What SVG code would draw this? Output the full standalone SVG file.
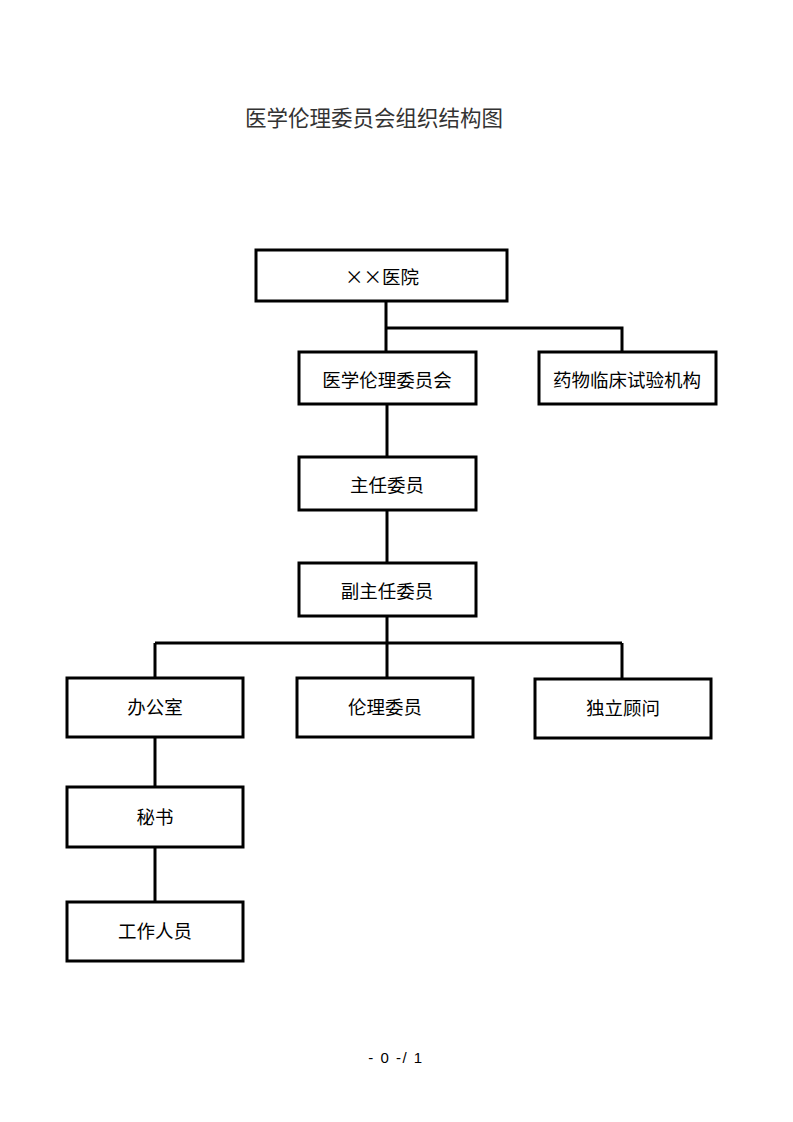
<svg xmlns="http://www.w3.org/2000/svg" width="793" height="1122" viewBox="0 0 793 1122">
<style>
.box{fill:#fff;stroke:#000;stroke-width:3}
.conn{fill:none;stroke:#000;stroke-width:3}
.lbl{font-family:"Noto Sans CJK SC","Noto Sans",sans-serif;font-size:18.5px;fill:#000;text-anchor:middle;dominant-baseline:central}
.title{font-family:"Noto Sans CJK SC","Noto Sans",sans-serif;font-size:21.5px;fill:#333;text-anchor:middle}
.foot{font-family:"Liberation Sans",sans-serif;font-size:15px;fill:#000;text-anchor:middle;letter-spacing:1.5px}
</style>
<rect width="793" height="1122" fill="#fff"/>
<text class="title" x="374" y="126">医学伦理委员会组织结构图</text>
<g id="connectors">
<path class="conn" d="M386 301V352M386 328H622V352"/>
<path class="conn" d="M387 404V457"/>
<path class="conn" d="M387 510V563"/>
<path class="conn" d="M387 616V678M155 643H622M155 643V678M622 643V679"/>
<path class="conn" d="M155 737V787"/>
<path class="conn" d="M155 847V902"/>
</g>
<g id="hospital"><rect class="box" x="256" y="250" width="251" height="51"/><text class="lbl" x="382" y="276">××医院</text></g>
<g id="ethics"><rect class="box" x="299" y="352" width="177" height="52"/><text class="lbl" x="387" y="379">医学伦理委员会</text></g>
<g id="drugtrial"><rect class="box" x="539" y="352" width="177" height="52"/><text class="lbl" x="627" y="379">药物临床试验机构</text></g>
<g id="director"><rect class="box" x="299" y="457" width="177" height="53"/><text class="lbl" x="387" y="484">主任委员</text></g>
<g id="vicedirector"><rect class="box" x="299" y="563" width="177" height="53"/><text class="lbl" x="387" y="590">副主任委员</text></g>
<g id="office"><rect class="box" x="67" y="678" width="176" height="59"/><text class="lbl" x="155" y="706">办公室</text></g>
<g id="members"><rect class="box" x="297" y="678" width="176" height="59"/><text class="lbl" x="385" y="706">伦理委员</text></g>
<g id="advisor"><rect class="box" x="535" y="679" width="176" height="59"/><text class="lbl" x="623" y="707">独立顾问</text></g>
<g id="secretary"><rect class="box" x="67" y="787" width="176" height="60"/><text class="lbl" x="155" y="816">秘书</text></g>
<g id="staff"><rect class="box" x="67" y="902" width="176" height="59"/><text class="lbl" x="155" y="930">工作人员</text></g>
<text class="foot" x="396" y="1063">- 0 -/ 1</text>
</svg>
